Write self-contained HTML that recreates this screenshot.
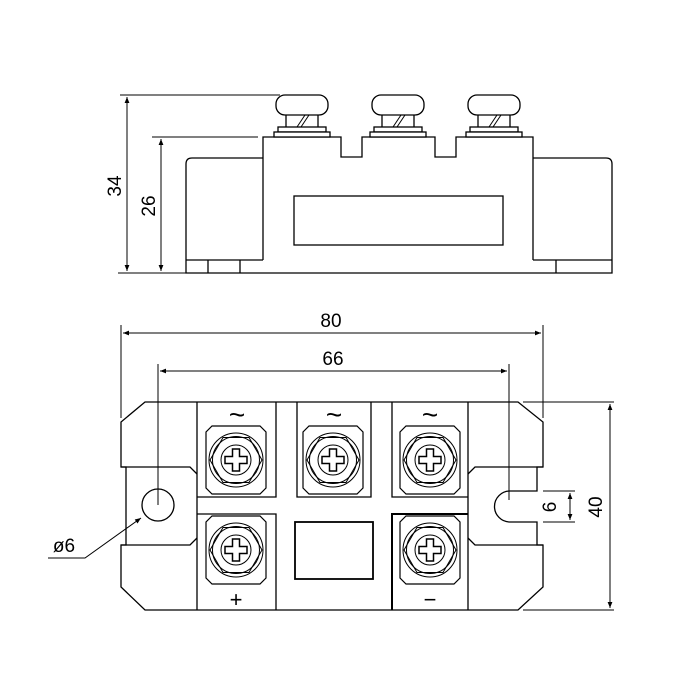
<!DOCTYPE html>
<html><head><style>html,body{margin:0;padding:0;background:#fff}svg{display:block}</style></head><body>
<svg width="700" height="700" viewBox="0 0 700 700" xmlns="http://www.w3.org/2000/svg" font-family="Liberation Sans, sans-serif">
<defs>
<marker id="a" viewBox="0 0 10 10" refX="10" refY="5" markerWidth="8" markerHeight="6" orient="auto-start-reverse" markerUnits="userSpaceOnUse"><path d="M0,1 L10,5 L0,9z" fill="#000"/></marker>
<g id="knob" fill="#fff" stroke="#000" stroke-width="1.3">
<rect x="-26" y="95" width="52" height="20" rx="9"/>
<line x1="-16" y1="115" x2="-16" y2="127"/><line x1="16" y1="115" x2="16" y2="127"/>
<line x1="-5" y1="127" x2="3" y2="115" stroke-width="1"/><line x1="-1" y1="127" x2="7" y2="115" stroke-width="1"/>
<rect x="-24" y="127" width="48" height="5"/><rect x="-28" y="132" width="56" height="5"/>
</g>
<g id="screw" fill="none" stroke="#000" stroke-width="1">
<path d="M-24,-34 H24 L30,-28 V28 L24,34 H-24 L-30,28 V-28 Z" stroke-width="1.2"/>
<circle r="27"/><circle r="23.5"/>
<polygon points="26,0 13,22.5 -13,22.5 -26,0 -13,-22.5 13,-22.5"/>
<circle r="15"/>
<path d="M-3.5,-11 H3.5 V-3.5 H11 V3.5 H3.5 V11 H-3.5 V3.5 H-11 V-3.5 H-3.5 Z" stroke-width="1.5"/>
</g>
</defs>
<g stroke="#000" fill="none" stroke-width="1.3">
<line x1="120" y1="95" x2="280" y2="95" stroke-width="1"/>
<line x1="152" y1="137" x2="258" y2="137" stroke-width="1"/>
<line x1="118" y1="273" x2="186" y2="273" stroke-width="1"/>
<line x1="127" y1="97" x2="127" y2="271" stroke-width="1" marker-start="url(#a)" marker-end="url(#a)"/>
<line x1="161" y1="139" x2="161" y2="271" stroke-width="1" marker-start="url(#a)" marker-end="url(#a)"/>
<path d="M263,158 H192 Q186,158 186,164 V273 H612 V164 Q612,158 606,158 H533"/>
<path d="M263,260 V137 H341 V157 H362 V137 H435 V157 H456 V137 H533 V260"/>
<path d="M186,260 H263 M533,260 H612 M208,260 V273 M240,260 V273 M556,260 V273"/>
<rect x="294" y="196" width="209" height="49"/>
</g>
<use href="#knob" x="302"/><use href="#knob" x="398"/><use href="#knob" x="494"/>
<text x="0" y="0" font-size="19" transform="translate(121,186) rotate(-90)" text-anchor="middle">34</text>
<text x="0" y="0" font-size="19" transform="translate(155,206) rotate(-90)" text-anchor="middle">26</text>

<g stroke="#000" fill="none" stroke-width="1.3">
<line x1="121" y1="325" x2="121" y2="418" stroke-width="1"/>
<line x1="543" y1="325" x2="543" y2="418" stroke-width="1"/>
<line x1="123" y1="333" x2="541" y2="333" stroke-width="1" marker-start="url(#a)" marker-end="url(#a)"/>
<line x1="158" y1="364" x2="158" y2="505" stroke-width="1"/>
<line x1="509" y1="364" x2="509" y2="500" stroke-width="1"/>
<line x1="160" y1="371" x2="507" y2="371" stroke-width="1" marker-start="url(#a)" marker-end="url(#a)"/>
<path d="M145,402 H518 L543,422 V467 H537 V491 H510 A15.5,15.5 0 0 0 510,522 H537 V545 H543 V587 L518,610 H145 L121,587 V545 H126 V467 H121 V422 Z"/>
<path d="M121,467 H190 L197,474 M121,545 H190 L197,538 M543,467 H475 L468,474 M543,545 H475 L468,538"/>
<line x1="197" y1="402" x2="197" y2="610"/>
<line x1="468" y1="402" x2="468" y2="610"/>
<path d="M276,402 V497 H197 M297,402 V497 H371 V402 M392,402 V497 H468"/>
<path d="M197,514 H276 V610"/>
<path d="M392,610 V514 H468" stroke-width="2"/>
<rect x="295" y="522" width="78" height="57" stroke-width="1.8"/>
<circle cx="158" cy="505" r="16"/>
<line x1="523" y1="402" x2="614" y2="402" stroke-width="1"/>
<line x1="523" y1="610" x2="614" y2="610" stroke-width="1"/>
<line x1="610" y1="404" x2="610" y2="608" stroke-width="1" marker-start="url(#a)" marker-end="url(#a)"/>
<line x1="543" y1="491" x2="575" y2="491" stroke-width="1"/>
<line x1="543" y1="522" x2="575" y2="522" stroke-width="1"/>
<line x1="570" y1="493" x2="570" y2="520" stroke-width="1" marker-start="url(#a)" marker-end="url(#a)"/>
<path d="M48,558 H85 L141,518" stroke-width="1" marker-end="url(#a)"/>
</g>
<use href="#screw" x="236" y="460"/><use href="#screw" x="333" y="460"/><use href="#screw" x="430" y="460"/>
<use href="#screw" x="236" y="550"/><use href="#screw" x="430" y="550"/>
<g font-size="19" text-anchor="middle">
<text x="331" y="327">80</text>
<text x="333" y="365">66</text>
<text x="237" y="424" font-size="28">~</text><text x="334" y="424" font-size="28">~</text><text x="430" y="424" font-size="28">~</text>
<text x="236" y="607" font-size="22">+</text><text x="430" y="607" font-size="22">−</text>
<text x="64" y="552">ø6</text>
<text transform="translate(556,507) rotate(-90)">6</text>
<text transform="translate(602,507) rotate(-90)">40</text>
</g>
</svg>
</body></html>
